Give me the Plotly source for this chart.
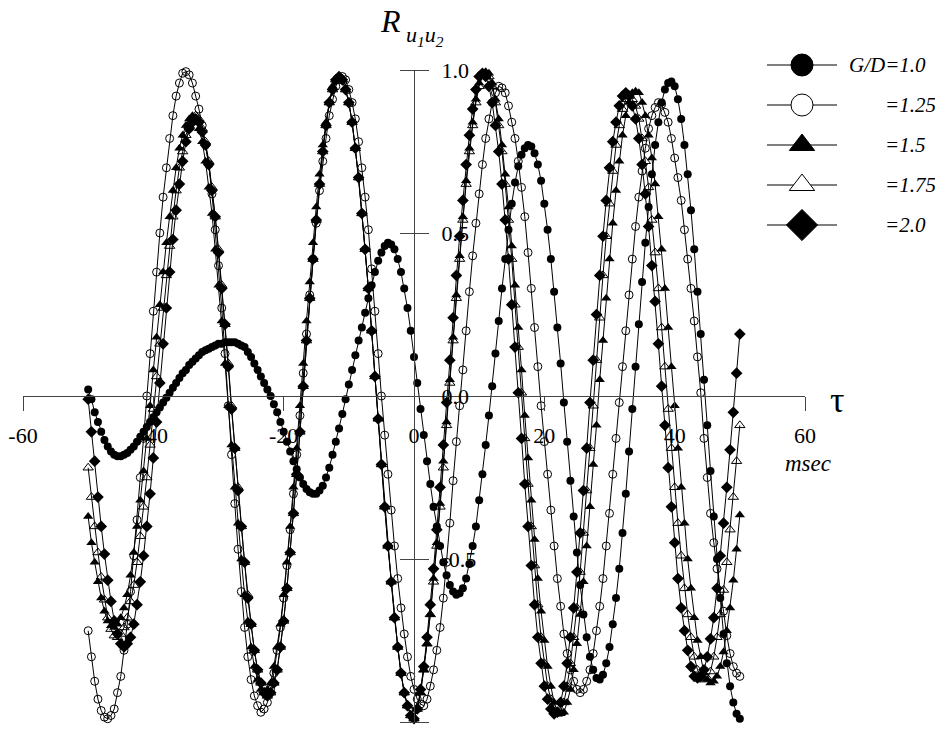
import plotly.graph_objects as go

# ---------------- data ----------------
tau_start = -50.0
tau_step = 0.5
n_points = 201
tau = [tau_start + tau_step * i for i in range(n_points)]

gd_100 = [
    0.02, -0.01, -0.05, -0.08, -0.11, -0.135, -0.155, -0.17, -0.18, -0.185, -0.185,
    -0.18, -0.175, -0.165, -0.155, -0.14, -0.125, -0.11, -0.095, -0.08, -0.065,
    -0.05, -0.035, -0.02, -0.005, 0.01, 0.025, 0.04, 0.055, 0.07, 0.08,
    0.095, 0.105, 0.115, 0.125, 0.135, 0.14, 0.145, 0.15, 0.155, 0.16,
    0.16, 0.165, 0.165, 0.165, 0.165, 0.16, 0.155, 0.15, 0.135, 0.12,
    0.10, 0.08, 0.06, 0.04, 0.02, 0.0, -0.025, -0.05, -0.08, -0.11,
    -0.14, -0.17, -0.20, -0.225, -0.25, -0.27, -0.285, -0.295, -0.30, -0.30,
    -0.29, -0.275, -0.25, -0.22, -0.18, -0.14, -0.10, -0.055, -0.01, 0.035,
    0.08, 0.125, 0.17, 0.21, 0.255, 0.30, 0.34, 0.38, 0.415, 0.44,
    0.46, 0.47, 0.465, 0.45, 0.42, 0.38, 0.33, 0.27, 0.20, 0.12,
    0.04, -0.04, -0.12, -0.20, -0.27, -0.34, -0.40, -0.46, -0.51, -0.55,
    -0.58, -0.60, -0.61, -0.605, -0.59, -0.56, -0.515, -0.46, -0.40, -0.32,
    -0.24, -0.15, -0.06, 0.03, 0.13, 0.23, 0.33, 0.42, 0.51, 0.59,
    0.655, 0.705, 0.74, 0.76, 0.77, 0.765, 0.745, 0.71, 0.66, 0.59,
    0.51, 0.42, 0.32, 0.21, 0.10, -0.02, -0.14, -0.26, -0.37, -0.48,
    -0.58, -0.67, -0.74, -0.80, -0.84, -0.865, -0.87, -0.855, -0.82, -0.77,
    -0.70, -0.62, -0.53, -0.42, -0.30, -0.17, -0.04, 0.09, 0.22, 0.35,
    0.47, 0.58, 0.68, 0.77, 0.84, 0.90, 0.94, 0.96, 0.965, 0.95,
    0.91, 0.85, 0.77, 0.68, 0.57, 0.45, 0.32, 0.19, 0.05, -0.09,
    -0.23, -0.37, -0.50, -0.62, -0.73, -0.82, -0.89, -0.94, -0.975, -0.99,
]

gd_125 = [
    -0.72, -0.80, -0.875, -0.93, -0.965, -0.985, -0.99,
    -0.98, -0.96, -0.91, -0.86, -0.78, -0.70, -0.60, -0.49, -0.38, -0.25, -0.13, 0.00,
    0.13, 0.26, 0.38, 0.50, 0.61, 0.70, 0.79, 0.86, 0.92, 0.96, 0.99, 0.995,
    0.985, 0.96, 0.92, 0.88, 0.83, 0.77, 0.71, 0.62, 0.51, 0.40, 0.27, 0.13,
    -0.03, -0.18, -0.33, -0.47, -0.60, -0.71, -0.80, -0.87, -0.92, -0.95, -0.97,
    -0.96, -0.94, -0.90, -0.85, -0.78, -0.71, -0.62, -0.52, -0.41, -0.30, -0.18, -0.06,
    0.07, 0.19, 0.31, 0.42, 0.53, 0.63, 0.72, 0.79, 0.86, 0.91, 0.95, 0.97, 0.98,
    0.97, 0.94, 0.90, 0.85, 0.78, 0.70, 0.61, 0.51, 0.39, 0.26, 0.13, 0.00,
    -0.12, -0.24, -0.35, -0.46, -0.56, -0.65, -0.73, -0.80, -0.86, -0.90, -0.93, -0.945,
    -0.95, -0.93, -0.89, -0.84, -0.78, -0.71, -0.62, -0.51, -0.39, -0.26, -0.14, -0.03,
    0.08, 0.20, 0.32, 0.43, 0.53, 0.62, 0.71, 0.79, 0.85, 0.90, 0.93, 0.95,
    0.945, 0.93, 0.89, 0.84, 0.79, 0.72, 0.64, 0.55, 0.44, 0.33, 0.21, 0.09,
    -0.03, -0.14, -0.24, -0.35, -0.46, -0.56, -0.645, -0.73, -0.79, -0.84, -0.875, -0.90, -0.91,
    -0.90, -0.875, -0.84, -0.79, -0.72, -0.645, -0.56, -0.46, -0.36, -0.24, -0.13, -0.02,
    0.09, 0.20, 0.31, 0.42, 0.52, 0.61, 0.69, 0.76, 0.82, 0.86, 0.885, 0.90,
    0.895, 0.87, 0.84, 0.79, 0.73, 0.67, 0.60, 0.51, 0.42, 0.33, 0.23, 0.12, 0.01,
    -0.13, -0.25, -0.36, -0.45, -0.53, -0.60, -0.66, -0.735, -0.79, -0.83, -0.85, -0.86,
]

gd_150 = [
    -0.37, -0.45, -0.51, -0.57, -0.62, -0.66, -0.69, -0.705, -0.71,
    -0.70, -0.68, -0.65, -0.61, -0.55, -0.48, -0.40, -0.32, -0.23, -0.13, -0.03, 0.08,
    0.18, 0.28, 0.38, 0.47, 0.55, 0.63, 0.70, 0.76, 0.80, 0.83, 0.85, 0.86,
    0.85, 0.82, 0.78, 0.72, 0.64, 0.56, 0.45, 0.34, 0.23, 0.10, -0.03,
    -0.15, -0.28, -0.39, -0.50, -0.61, -0.69, -0.77, -0.83, -0.87, -0.90, -0.91,
    -0.90, -0.88, -0.83, -0.77, -0.70, -0.61, -0.51, -0.40, -0.28, -0.16, -0.03,
    0.10, 0.23, 0.35, 0.47, 0.58, 0.68, 0.77, 0.84, 0.90, 0.95, 0.97, 0.98,
    0.97, 0.94, 0.90, 0.84, 0.76, 0.67, 0.56, 0.45, 0.33, 0.20, 0.06,
    -0.07, -0.21, -0.34, -0.46, -0.57, -0.68, -0.77, -0.85, -0.91, -0.95, -0.98, -0.99,
    -0.96, -0.91, -0.84, -0.76, -0.67, -0.56, -0.45, -0.33, -0.20, -0.08, 0.05,
    0.18, 0.31, 0.43, 0.55, 0.66, 0.76, 0.84, 0.91, 0.96, 0.99, 0.995,
    0.99, 0.96, 0.91, 0.85, 0.77, 0.68, 0.58, 0.46, 0.34, 0.21, 0.08,
    -0.06, -0.19, -0.32, -0.44, -0.56, -0.66, -0.75, -0.83, -0.89, -0.94, -0.97, -0.975,
    -0.97, -0.94, -0.90, -0.84, -0.76, -0.67, -0.57, -0.46, -0.34, -0.21, -0.09,
    0.05, 0.17, 0.30, 0.42, 0.53, 0.63, 0.72, 0.80, 0.86, 0.90, 0.93, 0.935,
    0.93, 0.90, 0.86, 0.80, 0.73, 0.65, 0.55, 0.45, 0.33, 0.21, 0.09,
    -0.03, -0.16, -0.28, -0.39, -0.50, -0.59, -0.68, -0.75, -0.80, -0.85, -0.87, -0.88,
    -0.875, -0.86, -0.83, -0.785, -0.72, -0.65, -0.565, -0.47, -0.365,
]

gd_175 = [
    -0.22, -0.31, -0.40, -0.48, -0.555, -0.625, -0.68, -0.715, -0.735, -0.74,
    -0.73, -0.71, -0.68, -0.63, -0.58, -0.51, -0.43, -0.34, -0.25, -0.15, -0.04, 0.06,
    0.16, 0.27, 0.37, 0.46, 0.55, 0.63, 0.70, 0.75, 0.80, 0.83, 0.85, 0.86,
    0.85, 0.82, 0.78, 0.72, 0.64, 0.55, 0.45, 0.34, 0.22, 0.10, -0.03,
    -0.16, -0.28, -0.40, -0.51, -0.61, -0.70, -0.78, -0.84, -0.88, -0.91, -0.92,
    -0.91, -0.88, -0.84, -0.77, -0.69, -0.59, -0.48, -0.36, -0.24, -0.11, 0.03,
    0.17, 0.30, 0.42, 0.54, 0.65, 0.75, 0.83, 0.90, 0.94, 0.97, 0.98,
    0.97, 0.94, 0.90, 0.84, 0.76, 0.67, 0.56, 0.45, 0.33, 0.20, 0.06,
    -0.07, -0.21, -0.34, -0.46, -0.57, -0.68, -0.77, -0.85, -0.91, -0.95, -0.98, -0.99,
    -0.96, -0.91, -0.84, -0.76, -0.67, -0.57, -0.46, -0.34, -0.22, -0.09, 0.04,
    0.17, 0.30, 0.42, 0.54, 0.65, 0.75, 0.83, 0.90, 0.95, 0.98, 0.99,
    0.98, 0.95, 0.90, 0.83, 0.75, 0.65, 0.54, 0.42, 0.28, 0.15, 0.01,
    -0.13, -0.27, -0.40, -0.52, -0.64, -0.74, -0.82, -0.89, -0.93, -0.96, -0.975,
    -0.97, -0.94, -0.89, -0.82, -0.74, -0.65, -0.54, -0.42, -0.29, -0.16, -0.03,
    0.11, 0.24, 0.37, 0.49, 0.59, 0.69, 0.77, 0.83, 0.88, 0.91, 0.92,
    0.91, 0.89, 0.85, 0.79, 0.72, 0.64, 0.54, 0.44, 0.33, 0.21, 0.09,
    -0.04, -0.16, -0.28, -0.39, -0.49, -0.59, -0.67, -0.74, -0.80, -0.84, -0.86, -0.87,
    -0.865, -0.845, -0.80, -0.74, -0.67, -0.595, -0.51, -0.41, -0.31, -0.20, -0.09,
]

gd_200 = [
    -0.01, -0.11, -0.20, -0.31, -0.40, -0.485, -0.565, -0.63, -0.69, -0.73, -0.76, -0.77,
    -0.76, -0.74, -0.70, -0.64, -0.57, -0.49, -0.40, -0.30, -0.19, -0.08, 0.04,
    0.16, 0.27, 0.38, 0.48, 0.57, 0.65, 0.72, 0.78, 0.82, 0.84, 0.85,
    0.84, 0.81, 0.77, 0.71, 0.63, 0.55, 0.44, 0.33, 0.22, 0.09, -0.04,
    -0.16, -0.29, -0.40, -0.51, -0.62, -0.70, -0.78, -0.84, -0.88, -0.91, -0.92,
    -0.91, -0.88, -0.84, -0.77, -0.69, -0.59, -0.48, -0.36, -0.24, -0.11, 0.03,
    0.17, 0.30, 0.42, 0.54, 0.65, 0.75, 0.83, 0.90, 0.94, 0.97, 0.98,
    0.97, 0.94, 0.90, 0.84, 0.76, 0.67, 0.56, 0.45, 0.33, 0.20, 0.06,
    -0.07, -0.21, -0.34, -0.46, -0.57, -0.68, -0.77, -0.85, -0.91, -0.95, -0.98, -0.99,
    -0.96, -0.90, -0.83, -0.74, -0.64, -0.53, -0.41, -0.28, -0.15, -0.02,
    0.11, 0.24, 0.37, 0.49, 0.60, 0.71, 0.80, 0.88, 0.94, 0.98, 0.99,
    0.98, 0.95, 0.90, 0.83, 0.75, 0.65, 0.54, 0.42, 0.28, 0.15, 0.01,
    -0.13, -0.27, -0.40, -0.52, -0.64, -0.74, -0.82, -0.89, -0.93, -0.96, -0.975,
    -0.97, -0.94, -0.89, -0.82, -0.74, -0.65, -0.54, -0.42, -0.29, -0.16, -0.02,
    0.11, 0.25, 0.37, 0.49, 0.60, 0.70, 0.78, 0.84, 0.89, 0.92, 0.93,
    0.92, 0.89, 0.85, 0.79, 0.71, 0.62, 0.52, 0.40, 0.29, 0.16, 0.03,
    -0.09, -0.22, -0.34, -0.45, -0.56, -0.65, -0.72, -0.78, -0.83, -0.86, -0.865,
    -0.86, -0.84, -0.80, -0.745, -0.68, -0.59, -0.49, -0.39, -0.28, -0.165, -0.05, 0.07, 0.19,
]

series_names = ["G/D=1.0", "=1.25", "=1.5", "=1.75", "=2.0"]
x_ticks = [-60, -40, -20, 0, 20, 40, 60]
x_tick_text = ["-60", "-40", "-20", "0", "20", "40", "60"]
y_ticks = [-1.0, -0.5, 0.0, 0.5, 1.0]
y_tick_text = ["-1.0", "-0.5", "0.0", "0.5", "1.0"]

for s in (gd_100, gd_125, gd_150, gd_175, gd_200):
    assert len(s) == n_points, len(s)

# ---------------- styling / layout ----------------
W, H = 935, 733
FONT = "Liberation Serif"
INK = "#000000"
AX = "#444444"


def fx(px):
    """page pixel x -> paper fraction"""
    return px / W


def fy(py):
    """page pixel y -> paper fraction"""
    return 1 - py / H


x_dom = [fx(23), fx(805)]
y_dom = [fy(722), fy(70)]
x_rng = [-60, 60]
y_rng = [-1, 1]
# paper positions where the axes cross the origin
x_axis_pos = y_dom[0] + (0 - y_rng[0]) / (y_rng[1] - y_rng[0]) * (y_dom[1] - y_dom[0])
y_axis_pos = x_dom[0] + (0 - x_rng[0]) / (x_rng[1] - x_rng[0]) * (x_dom[1] - x_dom[0])

styles = [
    dict(symbol="circle", size=8, color=INK, opacity=1, line=dict(width=0)),
    dict(symbol="circle-open", size=8, color=INK, opacity=1, line=dict(width=1, color=INK)),
    dict(symbol="triangle-up", size=9, color=INK, opacity=1, line=dict(width=0)),
    dict(symbol="triangle-up-open", size=9, color=INK, opacity=1, line=dict(width=1, color=INK)),
    dict(symbol="diamond", size=9, color=INK, opacity=1, line=dict(width=0)),
]
legend_styles = [
    dict(symbol="circle", size=22, color=INK),
    dict(symbol="circle", size=22, color="white"),
    dict(symbol="triangle-up", size=22, color=INK),
    dict(symbol="triangle-up", size=22, color="white"),
    dict(symbol="diamond", size=24, color=INK),
]

fig = go.Figure()
all_series = [gd_100, gd_125, gd_150, gd_175, gd_200]
for name, vals, st in zip(series_names, all_series, styles):
    fig.add_trace(go.Scatter(
        x=tau, y=vals, mode="lines+markers", name=name,
        line=dict(color=INK, width=1), marker=st, opacity=1,
        cliponaxis=False, showlegend=False, xaxis="x", yaxis="y",
    ))

# empty trace that activates the left-tick y axis
fig.add_trace(go.Scatter(x=[None], y=[None], xaxis="x", yaxis="y2",
                         showlegend=False, hoverinfo="skip"))

# custom legend drawn in its own small axes
legend_row_px = [65, 105, 145, 185, 225]
for i, (name, st) in enumerate(zip(series_names, legend_styles)):
    row = i + 1
    fig.add_trace(go.Scatter(
        x=[0, 0.5, 1], y=[row, row, row], mode="lines+markers",
        line=dict(color=INK, width=1), opacity=1,
        marker=dict(symbol=st["symbol"], size=[0, st["size"], 0], opacity=1,
                    color=st["color"], line=dict(width=1, color=INK)),
        xaxis="x3", yaxis="y3", showlegend=False, hoverinfo="skip", cliponaxis=False,
    ))
    fig.add_annotation(
        x=fx(847) if i == 0 else fx(883), y=fy(legend_row_px[i]),
        xref="paper", yref="paper", xanchor="left", yanchor="middle",
        text="<i>%s</i>" % name, showarrow=False,
        font=dict(family=FONT, size=21, color=INK),
    )

tick_font = dict(family=FONT, size=22, color=INK)
fig.update_layout(
    template="none",
    width=W, height=H,
    margin=dict(l=0, r=0, t=0, b=0, pad=0),
    paper_bgcolor="white", plot_bgcolor="white",
    showlegend=False,
    xaxis=dict(
        domain=x_dom, range=x_rng, anchor="free", position=x_axis_pos, automargin=False,
        showgrid=False, zeroline=False, showline=True, linecolor=AX, linewidth=1,
        ticks="outside", ticklen=14, tickwidth=1, tickcolor=AX,
        tickvals=x_ticks, ticktext=x_tick_text, tickfont=tick_font,
        ticklabelstandoff=6,
    ),
    yaxis=dict(
        domain=y_dom, range=y_rng, anchor="free", position=y_axis_pos, side="right",
        automargin=False,
        showgrid=False, zeroline=False, showline=True, linecolor=AX, linewidth=1,
        ticks="outside", ticklen=14, tickwidth=1, tickcolor=AX,
        tickvals=y_ticks, ticktext=y_tick_text, tickfont=tick_font,
        ticklabelstandoff=8,
    ),
    yaxis2=dict(
        domain=y_dom, range=y_rng, anchor="free", position=y_axis_pos, side="left",
        overlaying="y", automargin=False,
        showgrid=False, zeroline=False, showline=False,
        ticks="outside", ticklen=14, tickwidth=1, tickcolor=AX,
        tickvals=y_ticks, showticklabels=False,
    ),
    xaxis3=dict(domain=[fx(767), fx(837)], range=[0, 1], visible=False, anchor="y3",
                automargin=False),
    yaxis3=dict(domain=[fy(245), fy(45)], range=[5.5, 0.5], visible=False, anchor="x3",
                automargin=False),
)

# axis titles / symbols
fig.add_annotation(x=fx(390), y=fy(21), xref="paper", yref="paper",
                   text="<i>R</i>", showarrow=False, xanchor="center", yanchor="middle",
                   font=dict(family=FONT, size=32, color=INK))
fig.add_annotation(x=fx(404), y=fy(36), xref="paper", yref="paper",
                   text="<i>u<sub>1</sub>u<sub>2</sub></i>", showarrow=False,
                   xanchor="left", yanchor="middle",
                   font=dict(family=FONT, size=22, color=INK))
fig.add_annotation(x=fx(837), y=fy(400), xref="paper", yref="paper",
                   text="τ", showarrow=False, xanchor="center", yanchor="middle",
                   font=dict(family=FONT, size=36, color=INK))
fig.add_annotation(x=fx(808), y=fy(463), xref="paper", yref="paper",
                   text="<i>msec</i>", showarrow=False, xanchor="center", yanchor="middle",
                   font=dict(family=FONT, size=23, color=INK))

# remove the browser's default page margin so the figure sits at the window origin
fig.write_html(
    "out.html",
    config={"displayModeBar": False, "staticPlot": True},
    post_script="document.body.style.margin='0';document.body.style.overflow='hidden';",
)
